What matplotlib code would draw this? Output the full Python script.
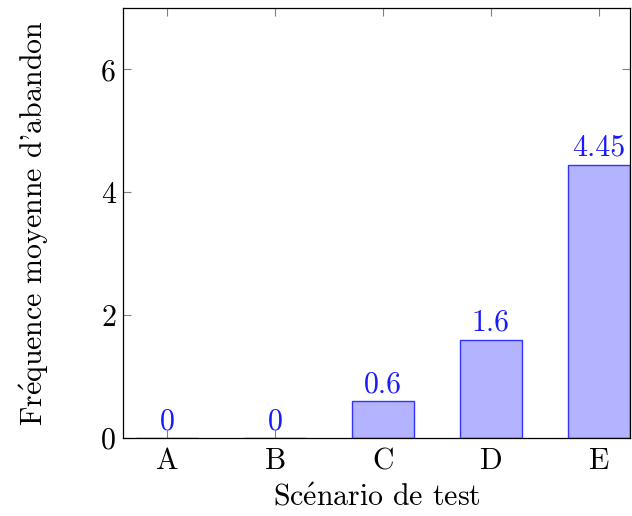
import matplotlib
matplotlib.use('Agg')
import matplotlib.pyplot as plt

scenarios = ['A', 'B', 'C', 'D', 'E']
frequences = [0, 0, 0.6, 1.6, 4.45]
labels_val = ['0', '0', '0.6', '1.6', '4.45']
yticks = [0, 2, 4, 6]

plt.rcParams['font.family'] = ['cmr10', 'DejaVu Serif']
plt.rcParams['mathtext.fontset'] = 'cm'
plt.rcParams['axes.formatter.use_mathtext'] = True

fs = 21.5
fig = plt.figure(figsize=(6.32, 5.16), dpi=100)
ax = fig.add_axes([0.1946, 0.1512, 0.8022, 0.8333])

x = list(range(len(scenarios)))
ax.bar(x, frequences, width=0.575, color=(0.7, 0.7, 1.0), edgecolor=(0.2, 0.2, 1.0), linewidth=1.0, zorder=2)
for xi, v, t in zip(x, frequences, labels_val):
    ax.annotate(t, (xi, v), xytext=(0, 2), textcoords='offset points',
                ha='center', va='bottom', color=(0.1, 0.1, 1.0), fontsize=fs)

ax.set_xlim(-0.41, 4.29)
ax.set_ylim(0, 7)
ax.set_xticks(x)
ax.set_xticklabels(scenarios)
ax.set_yticks(yticks)
ax.set_yticklabels([str(t) for t in yticks])
ax.tick_params(direction='in', length=6, width=0.8, color='#808080', labelsize=fs,
               top=True, right=True, pad=5)
ax.tick_params(axis='x', pad=7)
for s in ax.spines.values():
    s.set_linewidth(0.9)
ax.set_xlabel(r'Sc$\acute{\mathrm{e}}$nario de test', fontsize=fs, labelpad=6)
ax.set_ylabel(r"Fr$\acute{\mathrm{e}}$quence moyenne d'abandon", fontsize=fs, labelpad=36)

fig.savefig('out.png', dpi=100)
